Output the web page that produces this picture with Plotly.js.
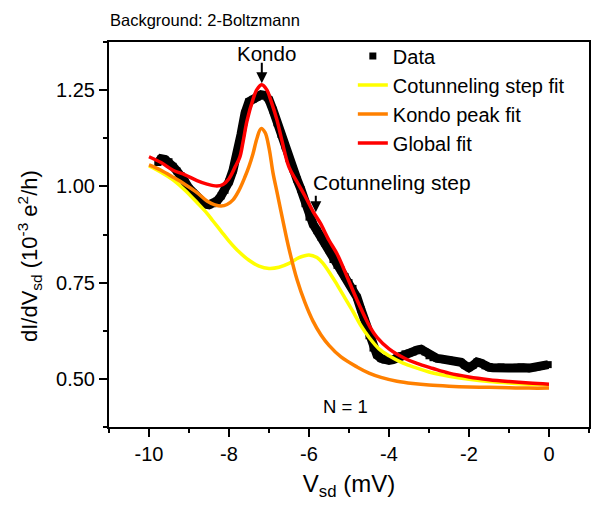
<!DOCTYPE html>
<html>
<head>
<meta charset="utf-8">
<script src="https://cdn.plot.ly/plotly-3.0.1.min.js"></script>
<style>html,body{margin:0;padding:0;background:#fff}#chart{width:596px;height:505px}</style>
</head>
<body>
<div id="chart"></div>
<script>
// Measured data (black squares)
const dataX = [-9.78,-9.7,-9.6,-9.5,-9.4,-9.3,-9.2,-9.1,-9.0,-8.9,-8.8,-8.7,-8.6,-8.5,-8.4,-8.3,-8.2,-8.1,-8.0,-7.9,-7.8,-7.7,-7.6,-7.5,-7.4,-7.3,-7.2,-7.1,-7.0,-6.9,-6.8,-6.7,-6.6,-6.5,-6.4,-6.3,-6.2,-6.1,-6.0,-5.9,-5.8,-5.7,-5.6,-5.5,-5.4,-5.3,-5.2,-5.1,-5.0,-4.9,-4.8,-4.7,-4.6,-4.5,-4.4,-4.3,-4.2,-4.1,-4.0,-3.9,-3.8,-3.7,-3.6,-3.5,-3.4,-3.3,-3.2,-3.1,-3.0,-2.9,-2.8,-2.7,-2.6,-2.5,-2.4,-2.3,-2.2,-2.1,-2.0,-1.9,-1.8,-1.7,-1.6,-1.5,-1.4,-1.3,-1.2,-1.1,-1.0,-0.9,-0.8,-0.7,-0.6,-0.5,-0.4,-0.3,-0.2,-0.1,-0.02];
const dataY = [1.062,1.072,1.070,1.064,1.052,1.040,1.028,1.012,0.995,0.983,0.972,0.962,0.954,0.952,0.955,0.962,0.975,0.990,1.012,1.042,1.080,1.135,1.190,1.220,1.226,1.232,1.238,1.236,1.225,1.198,1.165,1.135,1.105,1.072,1.045,1.018,0.992,0.955,0.920,0.902,0.885,0.868,0.852,0.835,0.810,0.795,0.783,0.766,0.750,0.735,0.712,0.680,0.650,0.612,0.580,0.562,0.553,0.549,0.548,0.550,0.555,0.560,0.565,0.567,0.570,0.575,0.577,0.570,0.560,0.555,0.553,0.552,0.550,0.549,0.547,0.545,0.543,0.535,0.529,0.535,0.544,0.541,0.534,0.530,0.529,0.530,0.531,0.529,0.528,0.528,0.530,0.531,0.529,0.528,0.529,0.531,0.533,0.535,0.537];

// Cotunneling step fit (yellow)
const cotX = [-10,-9.7,-9.4,-9.1,-8.8,-8.55,-8.4,-8.2,-8.0,-7.75,-7.5,-7.25,-7.0,-6.75,-6.5,-6.25,-6.0,-5.8,-5.65,-5.45,-5.3,-5.1,-4.9,-4.7,-4.5,-4.25,-4.0,-3.65,-3.3,-3.0,-2.5,-2.0,-1.5,-1.0,-0.5,0.0];
const cotY = [1.053,1.037,1.017,0.990,0.958,0.930,0.910,0.884,0.858,0.830,0.808,0.793,0.787,0.790,0.800,0.815,0.822,0.815,0.800,0.770,0.745,0.710,0.675,0.638,0.608,0.578,0.560,0.541,0.528,0.518,0.507,0.499,0.493,0.489,0.486,0.484];

// Kondo peak fit (orange)
const kondoX = [-10,-9.7,-9.4,-9.1,-8.8,-8.55,-8.35,-8.2,-8.05,-7.9,-7.75,-7.6,-7.5,-7.4,-7.3,-7.2,-7.1,-7.0,-6.9,-6.8,-6.65,-6.5,-6.3,-6.1,-5.9,-5.7,-5.5,-5.2,-4.8,-4.5,-4.2,-3.8,-3.4,-3.0,-2.5,-2.0,-1.5,-1.0,-0.5,0.0];
const kondoY = [1.056,1.042,1.024,1.005,0.984,0.962,0.952,0.949,0.953,0.965,0.990,1.025,1.052,1.085,1.125,1.150,1.140,1.100,1.035,0.985,0.910,0.838,0.758,0.698,0.650,0.614,0.587,0.557,0.531,0.515,0.504,0.494,0.488,0.484,0.481,0.479,0.478,0.477,0.476,0.476];

// Global fit (red)
const globX = [-10,-9.7,-9.4,-9.1,-8.8,-8.55,-8.3,-8.15,-8.0,-7.85,-7.73,-7.65,-7.55,-7.4,-7.3,-7.18,-7.05,-6.95,-6.8,-6.68,-6.5,-6.3,-6.1,-5.9,-5.72,-5.5,-5.3,-5.05,-4.8,-4.47,-4.3,-4.0,-3.6,-3.3,-2.9,-2.5,-2.0,-1.5,-1.0,-0.5,0.0];
const globY = [1.077,1.062,1.042,1.030,1.015,1.006,1.001,1.005,1.020,1.050,1.076,1.115,1.170,1.226,1.252,1.264,1.250,1.222,1.172,1.120,1.050,1.012,0.975,0.935,0.905,0.860,0.825,0.766,0.705,0.634,0.608,0.578,0.553,0.540,0.527,0.515,0.505,0.498,0.493,0.489,0.486];

const names = ["Data","Cotunneling step fit","Kondo peak fit","Global fit"];

// Tick labels
const xTickVals = [-10,-8,-6,-4,-2,0];
const xTickText = ["-10","-8","-6","-4","-2","0"];
const yTickVals = [0.5,0.75,1.0,1.25];
const yTickText = ["0.50","0.75","1.00","1.25"];

const font = "Liberation Sans, Arial, sans-serif";

const traces = [
  {x: dataX, y: dataY, mode: "lines", line: {color: "#000", width: 9}, showlegend: false, hoverinfo: "skip"},
  {x: dataX, y: dataY, mode: "markers", name: names[0],
   marker: {symbol: "square", size: 7, color: "#000"}},
  {x: cotX, y: cotY, mode: "lines", name: names[1], line: {color: "#FFFF00", width: 3.5, shape: "spline"}},
  {x: kondoX, y: kondoY, mode: "lines", name: names[2], line: {color: "#FF8000", width: 3.5, shape: "spline"}},
  {x: globX, y: globY, mode: "lines", name: names[3], line: {color: "#FF0000", width: 3.5, shape: "spline"}}
];

const layout = {
  width: 596, height: 505,
  margin: {l: 109, r: 7, t: 42, b: 78},
  paper_bgcolor: "#fff", plot_bgcolor: "#fff",
  font: {family: font, color: "#000", size: 20},
  title: {text: "Background: 2-Boltzmann", x: 110/596, xanchor: "left", xref: "container",
          y: 1 - 20/505, yanchor: "middle", font: {size: 16.5, family: font, color: "#000"}},
  showlegend: true,
  legend: {x: 0.508, xanchor: "left", y: 1.014, yanchor: "top", bgcolor: "rgba(0,0,0,0)",
           font: {size: 20, family: font, color: "#000"}, traceorder: "normal"},
  xaxis: {range: [-11, 1], tickmode: "array", tickvals: xTickVals, ticktext: xTickText,
          ticks: "outside", ticklen: 8, tickwidth: 2,
          tickcolor: "#000", showline: true, linewidth: 2, linecolor: "#000", mirror: true,
          showgrid: false, zeroline: false, tickfont: {size: 20, family: font},
          minor: {ticks: "outside", ticklen: 4, tickwidth: 2, tickcolor: "#000", dtick: 1, tick0: 0, showgrid: false},
          title: {text: "V<sub>sd</sub> (mV)", font: {size: 24, family: font}, standoff: 11}},
  yaxis: {range: [0.375, 1.375], tickmode: "array", tickvals: yTickVals, ticktext: yTickText,
          ticks: "outside", ticklen: 8, tickwidth: 2, tickcolor: "#000",
          showline: true, linewidth: 2, linecolor: "#000", mirror: true,
          showgrid: false, zeroline: false, tickfont: {size: 20, family: font},
          minor: {ticks: "outside", ticklen: 4, tickwidth: 2, tickcolor: "#000", dtick: 0.125, tick0: 0.5, showgrid: false}},
  yaxis2: {overlaying: "y", side: "right", matches: "y", showline: false, showgrid: false, zeroline: false,
           showticklabels: false, tickmode: "linear", tick0: 0.5, dtick: 0.25,
           ticks: "outside", ticklen: 3, tickwidth: 1.5, tickcolor: "#000",
           minor: {ticks: "outside", ticklen: 3, tickwidth: 1.5, tickcolor: "#000", dtick: 0.125, tick0: 0.5}},
  annotations: [
    {xref: "paper", yref: "paper", x: (29 - 109) / 480, y: (427 - 256) / 385, xanchor: "center", yanchor: "middle",
     textangle: -90, text: "dI/dV<sub>sd</sub> (10<sup>-3</sup> e<sup>2</sup>/h)", showarrow: false, font: {size: 22, family: font}},
    {x: -7.06, y: 1.346, xref: "x", yref: "y", text: "Kondo", showarrow: false, font: {size: 20.5, family: font}},
    {x: -7.18, y: 1.268, xref: "x", yref: "y", ax: 0, ay: -22, text: "", showarrow: true,
     arrowhead: 2, arrowsize: 1.1, arrowwidth: 2, arrowcolor: "#000"},
    {x: -3.93, y: 1.011, xref: "x", yref: "y", text: "Cotunneling step", showarrow: false, font: {size: 21, family: font}},
    {x: -5.83, y: 0.933, xref: "x", yref: "y", ax: 0, ay: -18, text: "", showarrow: true,
     arrowhead: 2, arrowsize: 1.1, arrowwidth: 2, arrowcolor: "#000"},
    {x: -5.1, y: 0.427, xref: "x", yref: "y", text: "N = 1", showarrow: false, font: {size: 18.5, family: font}}
  ]
};

Plotly.newPlot("chart", traces, layout, {staticPlot: true, displayModeBar: false});
</script>
</body>
</html>
